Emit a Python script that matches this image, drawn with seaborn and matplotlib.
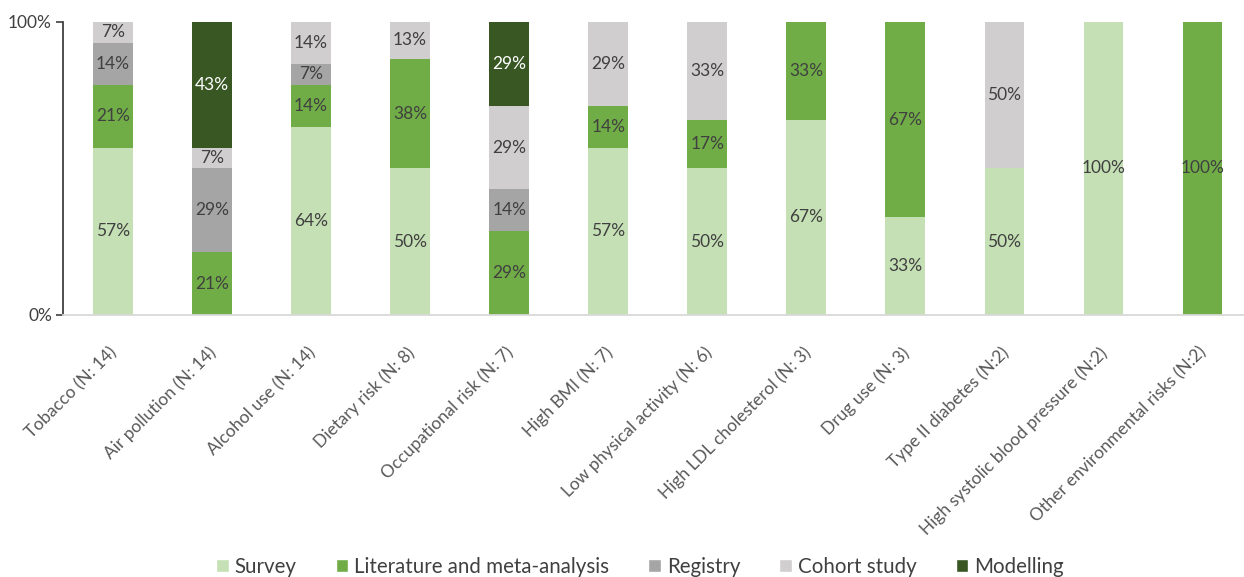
import matplotlib

matplotlib.use("Agg")

import matplotlib.pyplot as plt
import numpy as np
import pandas as pd
import seaborn as sns
from matplotlib.patches import Patch
from matplotlib.transforms import ScaledTranslation

sns.set_theme(style="white")
plt.rcParams["font.family"] = ["Lato", "DejaVu Sans"]

categories = [
    "Tobacco (N: 14)",
    "Air pollution (N: 14)",
    "Alcohol use (N: 14)",
    "Dietary risk (N: 8)",
    "Occupational risk (N: 7)",
    "High BMI (N: 7)",
    "Low physical activity (N: 6)",
    "High LDL cholesterol (N: 3)",
    "Drug use (N: 3)",
    "Type II diabetes (N:2)",
    "High systolic blood pressure (N:2)",
    "Other environmental risks (N:2)",
]
# study counts per category, bottom to top of each bar
survey = [8, 0, 9, 4, 0, 4, 3, 2, 1, 1, 2, 0]
literature = [3, 3, 2, 3, 2, 1, 1, 1, 2, 0, 0, 2]
registry = [2, 4, 1, 0, 1, 0, 0, 0, 0, 0, 0, 0]
cohort = [1, 1, 2, 1, 2, 2, 2, 0, 0, 1, 0, 0]
modelling = [0, 6, 0, 0, 2, 0, 0, 0, 0, 0, 0, 0]

series = {
    "Survey": survey,
    "Literature and meta-analysis": literature,
    "Registry": registry,
    "Cohort study": cohort,
    "Modelling": modelling,
}
colors = {
    "Survey": "#C5E0B4",
    "Literature and meta-analysis": "#70AD47",
    "Registry": "#A5A5A5",
    "Cohort study": "#D0CECE",
    "Modelling": "#385723",
}
label_colors = {"Modelling": "white"}

counts = pd.DataFrame(series, index=categories)
share = counts.div(counts.sum(axis=1), axis=0)

fig = plt.figure(figsize=(12.44, 5.77), dpi=100)
ax = fig.add_axes([63 / 1244, 1 - 315 / 577, 1 - 63 / 1244, (315 - 22) / 577])

bottom = np.zeros(len(categories))
for name in series:
    vals = share[name].to_numpy()
    sns.barplot(x=categories, y=vals, bottom=bottom, color=colors[name],
                width=0.4, ax=ax, saturation=1, linewidth=0)
    cont = ax.containers[-1]
    for patch, v, b in zip(cont.patches, vals, bottom):
        if v <= 0:
            continue
        ax.text(patch.get_x() + patch.get_width() / 2, b + v / 2,
                f"{int(np.floor(v * 100 + 0.5))}%", ha="center", va="center",
                fontsize=12.5, color=label_colors.get(name, "#404040"))
    bottom = bottom + vals

ax.set_ylim(0, 1)
ax.set_xlim(-0.505, 11.42)
ax.set_yticks([0, 1])
ax.set_yticklabels(["0%", "100%"], fontsize=12.5, color="#404040")
ax.set_xticks(range(len(categories)))
ax.set_xticklabels(categories, rotation=45, ha="right", rotation_mode="anchor",
                   fontsize=12.5, color="#595959")
ax.tick_params(axis="x", length=0, pad=21)
ax.tick_params(axis="y", length=5, width=1.2, color="#404040", left=True, pad=3)
shift = ScaledTranslation(-4 / 100, 0, fig.dpi_scale_trans)
for lab in ax.get_xticklabels():
    lab.set_transform(lab.get_transform() + shift)

for s in ["top", "right"]:
    ax.spines[s].set_visible(False)
ax.spines["left"].set_color("#404040")
ax.spines["left"].set_linewidth(1.3)
ax.spines["bottom"].set_color("#D9D9D9")
ax.spines["bottom"].set_linewidth(1.3)

handles = [Patch(facecolor=colors[n], label=n) for n in series]
fig.legend(handles=handles, loc="center", bbox_to_anchor=(640 / 1244, 1 - 567 / 577),
           ncol=5, frameon=False, fontsize=14.8, handlelength=0.6, handleheight=0.6,
           handletextpad=0.3, columnspacing=1.9, labelcolor="#404040")

fig.savefig("out.png", dpi=100)
